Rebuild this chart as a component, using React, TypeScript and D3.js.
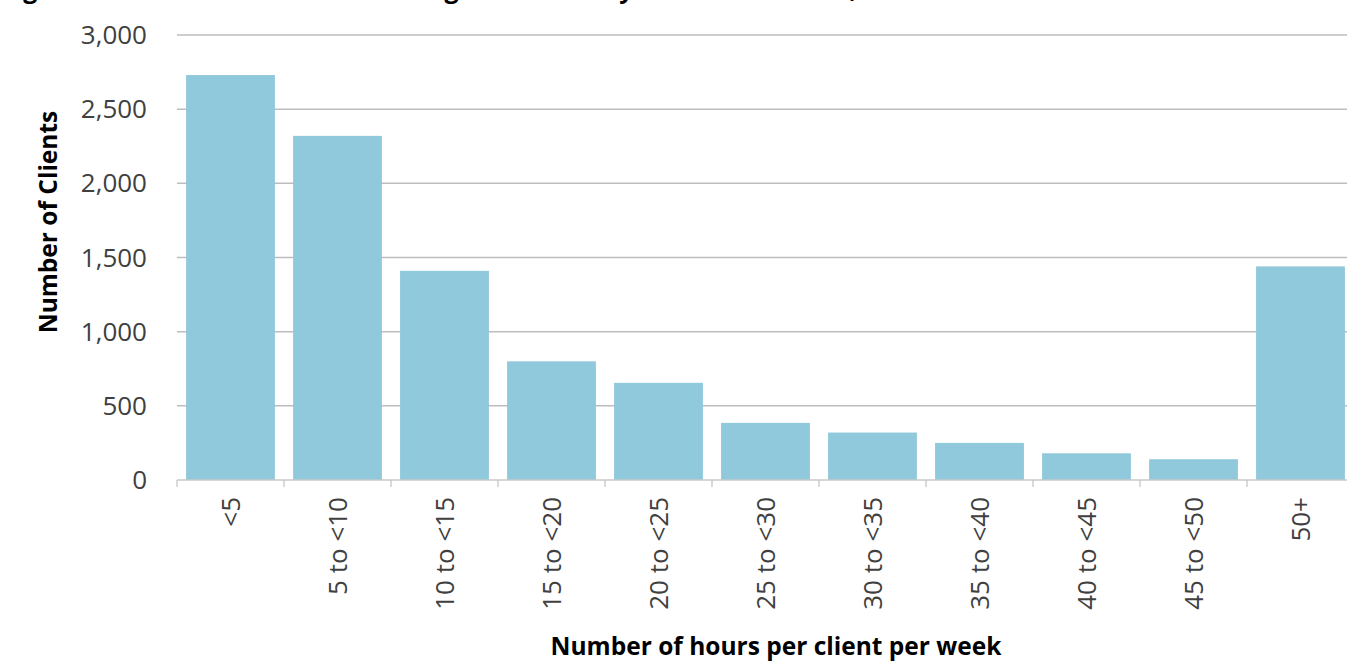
import React from "react";
import * as d3 from "d3";

const categories = ["<5", "5 to <10", "10 to <15", "15 to <20", "20 to <25", "25 to <30", "30 to <35", "35 to <40", "40 to <45", "45 to <50", "50+"];
const clients = [2730, 2320, 1410, 800, 655, 385, 320, 250, 180, 140, 1440];
const yTicks = [0, 500, 1000, 1500, 2000, 2500, 3000];
const titleText = "Figure 3: Number of clients receiving home care by number of hours, 2016";
const xTitle = "Number of hours per client per week";
const yTitle = "Number of Clients";

const W = 1347;
const H = 661;

export default function App() {
  const x = d3.scaleBand<string>().domain(categories).range([177, 1354]).paddingInner(0.17).paddingOuter(0.085);
  const y = d3.scaleLinear().domain([0, 3000]).range([480, 35]);
  const step = x.step();
  const gap = (step - x.bandwidth()) / 2;
  const tickXs = categories.map((c) => (x(c) as number) - gap);
  tickXs.push((x(categories[categories.length - 1]) as number) + x.bandwidth() + gap);
  const fmt = d3.format(",");
  const font = "'Open Sans', 'DejaVu Sans', sans-serif";

  return (
    <svg width={W} height={H} style={{ position: "absolute", left: 0, top: 0, background: "#fff" }} fontFamily={font}>
      <rect x={0} y={0} width={W} height={H} fill="#fff" />
      <text x={2} y={-2} fontSize={25} fontWeight="bold" fill="#000">{titleText}</text>
      {yTicks.filter((t) => t > 0).map((t) => (
        <line key={"g" + t} x1={177} x2={W} y1={y(t)} y2={y(t)} stroke="#bdbdbd" strokeWidth={1.5} />
      ))}
      {categories.map((c, i) => (
        <rect key={c} x={x(c)} y={y(clients[i])} width={x.bandwidth()} height={y(0) - y(clients[i])} fill="#8fc9db" />
      ))}
      <line x1={177} x2={W} y1={y(0)} y2={y(0)} stroke="#c8c8c8" strokeWidth={1.5} />
      {tickXs.map((tx, i) => (
        <line key={"t" + i} x1={tx} x2={tx} y1={y(0)} y2={y(0) + 7} stroke="#c8c0c0" strokeWidth={1.2} />
      ))}
      {yTicks.map((t) => (
        <text key={"yl" + t} x={147} y={y(t)} dy="0.35em" textAnchor="end" fontSize={26} fill="#404040">{fmt(t)}</text>
      ))}
      {categories.map((c) => {
        const cx = (x(c) as number) + x.bandwidth() / 2;
        return (
          <text key={"xl" + c} transform={`translate(${cx},497) rotate(-90)`} dy="0.35em" textAnchor="end" fontSize={26} fill="#404040">{c}</text>
        );
      })}
      <text transform="translate(48,222) rotate(-90)" dy="0.35em" textAnchor="middle" fontSize={24.5} fontWeight="bold" fill="#000">{yTitle}</text>
      <text x={776} y={655} textAnchor="middle" fontSize={24.5} fontWeight="bold" fill="#000">{xTitle}</text>
    </svg>
  );
}
